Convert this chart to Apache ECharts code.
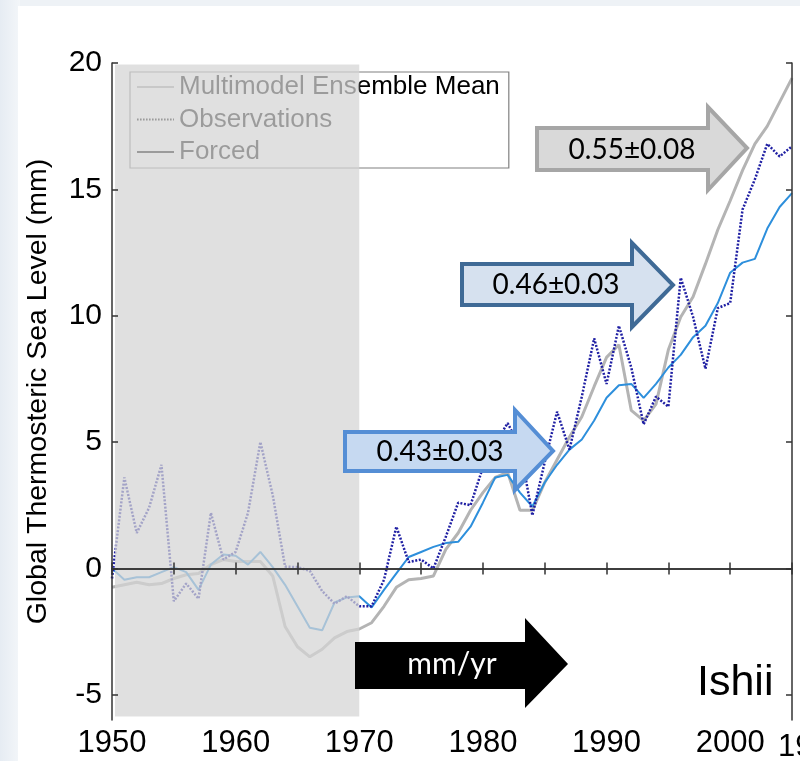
<!DOCTYPE html>
<html>
<head>
<meta charset="utf-8">
<script src="https://cdn.jsdelivr.net/npm/echarts@6/dist/echarts.min.js"></script>
<style>
html,body{margin:0;padding:0;width:800px;height:761px;overflow:hidden;background:#eef2f6;}
#bgl{position:absolute;left:0;top:0;width:20px;height:761px;background:linear-gradient(to right,#e6ecf3,#f3f6f9);}
#bgw{position:absolute;left:18px;top:6px;width:782px;height:755px;background:#ffffff;}
#main{position:absolute;left:0;top:0;width:800px;height:761px;}
</style>
</head>
<body>
<div id="bgl"></div>
<div id="bgw"></div>
<div id="main"></div>
<script>
// ---- data ----
const years = [1950,1951,1952,1953,1954,1955,1956,1957,1958,1959,
               1960,1961,1962,1963,1964,1965,1966,1967,1968,1969,
               1970,1971,1972,1973,1974,1975,1976,1977,1978,1979,
               1980,1981,1982,1983,1984,1985,1986,1987,1988,1989,
               1990,1991,1992,1993,1994,1995,1996,1997,1998,1999,
               2000,2001,2002,2003,2004,2005];
// grey line
const ensembleMean = [-0.75,-0.65,-0.55,-0.65,-0.6,-0.4,-0.25,-0.2,0.15,0.35,
                      0.27,0.27,0.27,-0.3,-2.3,-3.1,-3.5,-3.2,-2.75,-2.5,
                      -2.4,-2.15,-1.5,-0.75,-0.45,-0.4,-0.3,0.75,1.4,2.3,
                      3.0,3.6,3.8,2.3,2.3,3.4,4.3,5.2,6.0,7.2,
                      8.35,8.85,6.25,5.85,6.5,8.65,9.95,10.75,12.05,13.4,
                      14.55,15.75,16.8,17.5,18.45,19.4];
// dotted dark-blue line
const observations = [-0.4,3.6,1.4,2.4,4.1,-1.3,-0.6,-1.2,2.2,0.35,
                      0.65,2.2,5.0,2.9,0.07,0.05,-0.1,-0.9,-1.4,-1.1,
                      -1.5,-1.5,-0.45,1.65,0.25,0.35,0.0,1.25,2.6,2.5,
                      4.0,4.95,5.75,4.8,2.1,4.2,6.2,4.7,6.8,9.1,
                      7.3,9.6,7.95,5.7,6.8,6.4,11.5,9.95,7.9,10.3,
                      10.5,14.2,15.4,16.8,16.3,16.7];
// solid blue line
const forced = [0.0,-0.45,-0.35,-0.35,-0.15,0.05,-0.15,-0.85,0.15,0.55,
                0.5,0.15,0.65,0.05,-0.65,-1.5,-2.35,-2.45,-1.35,-1.15,
                -1.1,-1.55,-0.85,-0.2,0.45,0.65,0.85,1.0,1.05,1.65,
                2.6,3.6,3.7,3.0,2.45,3.4,4.1,4.7,5.1,5.85,
                6.75,7.25,7.3,6.75,7.3,7.95,8.45,9.15,9.6,10.5,
                11.7,12.1,12.25,13.45,14.3,14.85];
const yTicks = [-5,0,5,10,15,20];
const xLabelYears = [1950,1960,1970,1980,1990,2000];
const shadeRange = [1950,1970];
const legendNames = ['Multimodel Ensemble Mean','Observations','Forced'];
const arrowLabels = ['0.55\u00b10.08','0.46\u00b10.03','0.43\u00b10.03','mm/yr'];

const pairs = arr => years.map((y,i)=>[y,arr[i]]);
const FONT = "'Liberation Sans', Arial, sans-serif";
const CAL = "Lato, 'Open Sans', sans-serif";

const chart = echarts.init(document.getElementById('main'), null, {renderer:'canvas'});

const axisLineStyle = {color:'#333333', width:1.5};
const option = {
  backgroundColor: 'transparent',
  animation: false,
  grid: {left:112, right:8, top:63, bottom:41, containLabel:false},
  legend: {
    orient:'vertical', left:130, top:72,
    padding:[2,9,3,6],
    backgroundColor:'#ffffff', borderColor:'#808080', borderWidth:1.2,
    itemWidth:37, itemHeight:14, itemGap:6.5,
    itemStyle:{opacity:0},
    textStyle:{fontFamily:FONT, fontSize:26, color:'#000', lineHeight:26},
    data: legendNames
  },
  xAxis: [
    {type:'value', min:1950, max:2005, interval:5, z:60,
     axisLine:{lineStyle:axisLineStyle},
     axisTick:{inside:true, length:6, lineStyle:axisLineStyle},
     axisLabel:{fontFamily:FONT, fontSize:31, color:'#000', margin:8,
                customValues: xLabelYears, formatter: v => String(v)},
     splitLine:{show:false}},
    {type:'value', position:'top', min:1950, max:2005, interval:5, z:60,
     axisLine:{lineStyle:axisLineStyle},
     axisTick:{inside:true, length:6, lineStyle:axisLineStyle},
     axisLabel:{show:false}, splitLine:{show:false}}
  ],
  yAxis: [
    {type:'value', min:-6, max:20, z:60,
     name:'Global Thermosteric Sea Level (mm)', nameLocation:'middle', nameGap:59,
     nameTextStyle:{fontFamily:FONT, fontSize:28.5, color:'#000'},
     axisLine:{show:true, lineStyle:axisLineStyle},
     axisTick:{show:true, inside:true, length:6, lineStyle:axisLineStyle, customValues:yTicks},
     axisLabel:{fontFamily:FONT, fontSize:30, color:'#000', margin:10, customValues:yTicks},
     splitLine:{show:false}},
    {type:'value', position:'right', min:-6, max:20, z:60,
     axisLine:{show:true, lineStyle:axisLineStyle},
     axisTick:{show:true, inside:true, length:6, lineStyle:axisLineStyle, customValues:yTicks},
     axisLabel:{show:false}, splitLine:{show:false}}
  ],
  series: [
    // legend key styles (no data)
    {name:legendNames[0], type:'line', symbol:'none', data:[],
     lineStyle:{color:'#a8a8a8', width:3}, itemStyle:{color:'#a8a8a8'}},
    {name:legendNames[1], type:'line', symbol:'none', data:[],
     lineStyle:{color:'#000000', width:1.6, type:[1.6,1.4]}, itemStyle:{color:'#000000'}},
    {name:legendNames[2], type:'line', symbol:'none', data:[],
     lineStyle:{color:'#000000', width:1.5}, itemStyle:{color:'#000000'}},
    // plotted lines
    {name:legendNames[0], type:'line', symbol:'none', z:3,
     data: pairs(ensembleMean), lineStyle:{color:'#b4b4b4', width:3}, itemStyle:{color:'#b4b4b4'}},
    {name:legendNames[2], type:'line', symbol:'none', z:4,
     data: pairs(forced), lineStyle:{color:'#2d8fdc', width:2}, itemStyle:{color:'#2d8fdc'}},
    {name:legendNames[1], type:'line', symbol:'none', z:5,
     data: pairs(observations), lineStyle:{color:'#1f1fa3', width:2.5, type:[2,1.6]}, itemStyle:{color:'#1f1fa3'}}
  ]
};
chart.setOption(option);

// annotations
function arrowShape(x0, bt, bb, hx, ht, hb, tx, ty){
  return [[x0,bt],[hx,bt],[hx,ht],[tx,ty],[hx,hb],[hx,bb],[x0,bb]];
}
const p0 = chart.convertToPixel({gridIndex:0}, [shadeRange[0], 20]);
const p1 = chart.convertToPixel({gridIndex:0}, [shadeRange[1], -6]);

const graphics = [
  {type:'rect', z:40, silent:true,
   shape:{x:p0[0]+3, y:p0[1]+1.5, width:p1[0]-p0[0]-3, height:p1[1]-p0[1]-5},
   style:{fill:'rgba(212,212,212,0.73)'}},
  {type:'polygon', z:50, shape:{points:arrowShape(537,128,170,708,107,190,747,148)},
   style:{fill:'#d9d9d9', stroke:'#a6a6a6', lineWidth:4, lineJoin:'miter'}},
  {type:'text', z:51, x:632, y:150, style:{text:arrowLabels[0], fontFamily:CAL, fontSize:28, fill:'#000', align:'center', verticalAlign:'middle'}},
  {type:'polygon', z:50, shape:{points:arrowShape(462,264,305,632,243,327,673,285)},
   style:{fill:'#d6e1ef', stroke:'#3f6a96', lineWidth:4, lineJoin:'miter'}},
  {type:'text', z:51, x:556, y:285, style:{text:arrowLabels[1], fontFamily:CAL, fontSize:28, fill:'#000', align:'center', verticalAlign:'middle'}},
  {type:'polygon', z:50, shape:{points:arrowShape(345,432,471,515,410,490,553,451)},
   style:{fill:'#c6d9f1', stroke:'#558ed5', lineWidth:4, lineJoin:'miter'}},
  {type:'text', z:51, x:440, y:452, style:{text:arrowLabels[2], fontFamily:CAL, fontSize:28, fill:'#000', align:'center', verticalAlign:'middle'}},
  {type:'polygon', z:50, shape:{points:arrowShape(355,642,689,525,618,708,568,664)},
   style:{fill:'#000000'}},
  {type:'text', z:51, x:452, y:664, style:{text:arrowLabels[3], fontFamily:CAL, fontSize:30, fill:'#ffffff', align:'center', verticalAlign:'middle'}},
  {type:'text', z:51, x:697, y:683, style:{text:'Ishii', fontFamily:FONT, fontSize:43, fill:'#000', align:'left', verticalAlign:'middle'}},
  {type:'text', z:51, x:778, y:747, style:{text:'1950', fontFamily:FONT, fontSize:31, fill:'#000', align:'left', verticalAlign:'middle'}}
];
chart.setOption({graphic: graphics});
</script>
</body>
</html>
